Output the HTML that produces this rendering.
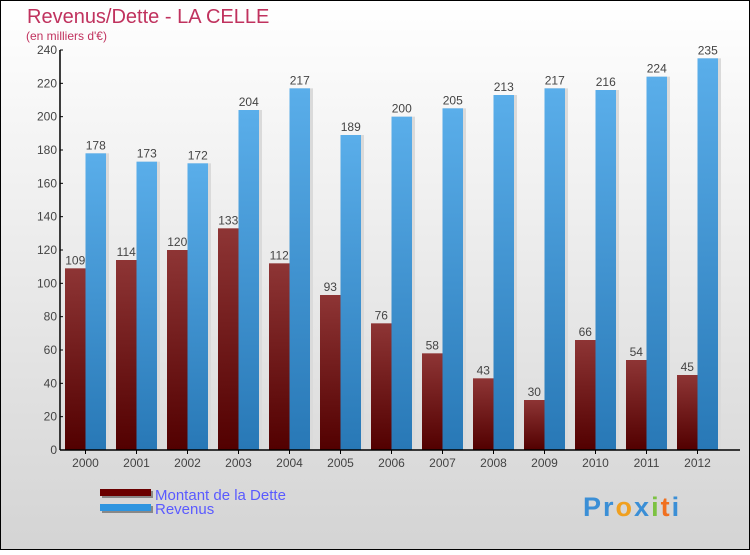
<!DOCTYPE html>
<html><head><meta charset="utf-8"><style>
html,body{margin:0;padding:0}
body{width:750px;height:550px;overflow:hidden;font-family:"Liberation Sans",sans-serif}
</style></head><body>
<svg id="chart" width="750" height="550" xmlns="http://www.w3.org/2000/svg">
<defs>
<linearGradient id="bg" x1="0" y1="0" x2="0" y2="1"><stop offset="0" stop-color="#ffffff"/><stop offset="1" stop-color="#d4d4d4"/></linearGradient>
<linearGradient id="gd" x1="0" y1="0" x2="0" y2="1"><stop offset="0" stop-color="#8e3535"/><stop offset="1" stop-color="#520000"/></linearGradient>
<linearGradient id="gr" x1="0" y1="0" x2="0" y2="1"><stop offset="0" stop-color="#5aaeea"/><stop offset="1" stop-color="#2878b6"/></linearGradient>
</defs>
<rect x="0.5" y="0.5" width="749" height="549" fill="url(#bg)" stroke="#000"/>
<text x="27" y="23" font-size="20" fill="#c0325e">Revenus/Dette - LA CELLE</text>
<text x="26" y="40" font-size="12" fill="#c0325e">(en milliers d'€)</text>
<g id="bars"></g>
<g id="axes"></g>
<g>
<rect x="102" y="491" width="51" height="7" fill="#888"/>
<rect x="100" y="489" width="51" height="7" fill="#6a0000"/>
<text x="155" y="500" font-size="15" fill="#5a5aff">Montant de la Dette</text>
<rect x="102" y="506" width="51" height="7" fill="#888"/>
<rect x="100" y="504" width="51" height="7" fill="#2e95e0"/>
<text x="155" y="514" font-size="15" fill="#5a5aff">Revenus</text>
</g>
<g font-size="27" font-weight="bold" letter-spacing="2">
<text x="583" y="516"><tspan fill="#3b8fd6">Pr</tspan><tspan fill="#f0a020">o</tspan><tspan fill="#3b8fd6">x</tspan><tspan fill="#7cc242">i</tspan><tspan fill="#f07020">t</tspan><tspan fill="#3b8fd6">i</tspan></text>
</g>
</svg>
<script>
const years=["2000","2001","2002","2003","2004","2005","2006","2007","2008","2009","2010","2011","2012"];
const debt=[109,114,120,133,112,93,76,58,43,30,66,54,45];
const revenus=[178,173,172,204,217,189,200,205,213,217,216,224,235];
const yTicks=[0,20,40,60,80,100,120,140,160,180,200,220,240];
const NS="http://www.w3.org/2000/svg";
const x0=60,y0=450,yTop=50,yMax=240,pitch=51,bw=20.5;
function y(v){return y0-(v/yMax)*(y0-yTop);}
function gx(i){return x0+5+i*pitch;}
function mk(t,a,p){const e=document.createElementNS(NS,t);for(const k in a)e.setAttribute(k,a[k]);p.appendChild(e);return e;}
const bars=document.getElementById('bars'),axes=document.getElementById('axes');
years.forEach((yr,i)=>{
  const x=gx(i);
  mk('rect',{x:x+bw,y:y(revenus[i]),width:bw+3,height:y0-y(revenus[i]),fill:'#dadada'},bars);
  const r=mk('rect',{x:x+bw,y:y(revenus[i]),width:bw,height:y0-y(revenus[i]),fill:'url(#gr)'},bars);
  
  
  const d=mk('rect',{x:x,y:y(debt[i]),width:bw,height:y0-y(debt[i]),fill:'url(#gd)'},bars);
  
  
  const t1=mk('text',{x:x+bw/2,y:y(debt[i])-4,'font-size':12,fill:'#444','text-anchor':'middle'},bars);t1.textContent=debt[i];
  
  
  const t2=mk('text',{x:x+bw*1.5,y:y(revenus[i])-4,'font-size':12,fill:'#444','text-anchor':'middle'},bars);t2.textContent=revenus[i];
  
  
  const xl=mk('text',{x:x+bw,y:467,'font-size':12,fill:'#444','text-anchor':'middle'},axes);xl.textContent=yr;
  
  
  mk('line',{x1:x+bw,x2:x+bw,y1:y0,y2:y0+4,stroke:'#000'},axes);
});
yTicks.forEach(v=>{
  mk('line',{x1:x0,x2:x0+3,y1:y(v),y2:y(v),stroke:'#000'},axes);
  const t=mk('text',{x:x0-3,y:y(v)+4,'font-size':12,fill:'#444','text-anchor':'end'},axes);t.textContent=v;
  
  
});
const ya=mk('line',{x1:x0,x2:x0,y1:yTop,y2:y0,stroke:'#000','stroke-width':1.5},axes);


const xa=mk('line',{x1:x0,x2:740,y1:y0,y2:y0,stroke:'#000','stroke-width':1.5},axes);


</script>
</body></html>
